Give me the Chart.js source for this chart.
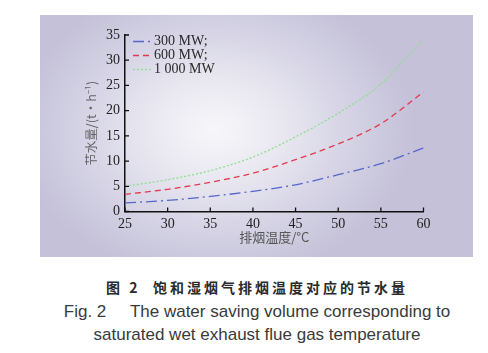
<!DOCTYPE html>
<html>
<head>
<meta charset="utf-8">
<script src="https://cdn.jsdelivr.net/npm/chart.js@4.4.1/dist/chart.umd.min.js"></script>
<style>
  html, body { margin: 0; padding: 0; background: #ffffff; }
  body { width: 488px; height: 353px; position: relative; overflow: hidden; }
  #panel {
    position: absolute; left: 40px; top: 15px; width: 433px; height: 242px;
    background: radial-gradient(ellipse 200px 150px at 175px 115px, #f7f7fa 0%, #e8e7f0 35%, #d3d1e3 70%, #c4c1d8 100%);
    background-color: #c4c1d8;
  }
  #wrap { position: absolute; left: 0; top: 0; width: 488px; height: 260px; }
  .cap { position: absolute; left: 13px; width: 488px; text-align: center; white-space: nowrap; }
  #cap1 { top: 277px; font-family: "Noto Sans CJK SC", sans-serif; font-weight: bold; font-size: 14px; color: #2a2a2a; letter-spacing: 3px; }
  #cap2 { top: 302px; font-family: "Liberation Sans", Arial, sans-serif; font-size: 17px; color: #3a3a3a; }
  #cap3 { top: 325px; font-family: "Liberation Sans", Arial, sans-serif; font-size: 17px; color: #3a3a3a; }
</style>
</head>
<body>
<div id="panel"></div>
<div id="wrap"><canvas id="c" width="488" height="260"></canvas></div>
<div class="cap" id="cap1">图 2&nbsp;&nbsp;饱和湿烟气排烟温度对应的节水量</div>
<div class="cap" id="cap2">Fig. 2&nbsp;&nbsp;&nbsp;&nbsp;&nbsp;The water saving volume corresponding to</div>
<div class="cap" id="cap3">saturated wet exhaust flue gas temperature</div>
<script>
// ---- data ----
const temperatures = [25, 30, 35, 40, 45, 50, 55, 60];
const mw300 = [1.7, 2.2, 3.0, 4.0, 5.3, 7.3, 9.5, 12.6];
const mw600 = [3.4, 4.4, 5.8, 7.6, 10.3, 13.4, 17.4, 23.7];
const mw1000 = [5.0, 6.3, 8.1, 10.8, 14.8, 19.5, 25.3, 34.2];
const seriesLabels = ["300 MW;", "600 MW;", "1 000 MW"];
const xTicks = [25, 30, 35, 40, 45, 50, 55, 60];
const yTicks = [0, 5, 10, 15, 20, 25, 30, 35];

function pts(xs, ys) { return xs.map((x, i) => ({ x: x, y: ys[i] })); }

const styles = [
  { color: "#5566cc", dash: [11, 4, 2, 4] },
  { color: "#e23a4e", dash: [6, 4] },
  { color: "#8ee08e", dash: [2, 2] }
];
const allSeries = [mw300, mw600, mw1000];

const datasets = allSeries.map((s, i) => ({
  label: seriesLabels[i],
  data: pts(temperatures, s),
  borderColor: styles[i].color,
  borderDash: styles[i].dash,
  borderWidth: 1.3,
  pointRadius: 0,
  fill: false,
  cubicInterpolationMode: "monotone"
}));

const innerTicks = {
  id: "innerTicks",
  afterDraw(chart) {
    const ctx = chart.ctx;
    const xs = chart.scales.x, ys = chart.scales.y;
    const a = chart.chartArea;
    ctx.save();
    ctx.strokeStyle = "#111";
    ctx.lineWidth = 1.3;
    ctx.beginPath();
    xTicks.forEach(v => {
      const px = xs.getPixelForValue(v);
      ctx.moveTo(px, a.bottom); ctx.lineTo(px, a.bottom - 4);
    });
    yTicks.forEach(v => {
      const py = ys.getPixelForValue(v);
      ctx.moveTo(a.left, py); ctx.lineTo(a.left + 4, py);
    });
    ctx.stroke();
    ctx.restore();
  }
};

const innerLegend = {
  id: "innerLegend",
  afterDraw(chart) {
    const ctx = chart.ctx;
    const a = chart.chartArea;
    ctx.save();
    ctx.font = "14px 'Liberation Serif', 'Times New Roman', serif";
    ctx.textBaseline = "middle";
    ctx.textAlign = "left";
    chart.data.datasets.forEach((ds, i) => {
      const y = a.top + 6.5 + i * 14;
      ctx.strokeStyle = ds.borderColor;
      ctx.lineWidth = 1.3;
      ctx.setLineDash(ds.borderDash);
      ctx.beginPath();
      ctx.moveTo(a.left + 8, y); ctx.lineTo(a.left + 26, y);
      ctx.stroke();
      ctx.setLineDash([]);
      ctx.fillStyle = "#2a2a2a";
      ctx.fillText(ds.label, a.left + 29, y);
    });
    ctx.restore();
  }
};

new Chart(document.getElementById("c"), {
  type: "line",
  data: { datasets: datasets },
  options: {
    responsive: false,
    animation: false,
    devicePixelRatio: 1,
    layout: { padding: { left: 80, top: 35, right: 64.5, bottom: 10 } },
    plugins: { legend: { display: false }, tooltip: { enabled: false } },
    scales: {
      x: {
        type: "linear",
        min: 25, max: 60,
        afterBuildTicks(scale) { scale.ticks = xTicks.map(v => ({ value: v })); },
        afterFit(scale) { scale.height = 38.5; },
        grid: { display: false, drawTicks: false },
        border: { display: true, color: "#111", width: 1.5 },
        ticks: { padding: 4, color: "#222", font: { family: "'Liberation Serif', serif", size: 14 } },
        title: { display: true, text: "排烟温度/°C", color: "#555", font: { family: "'Noto Sans CJK SC', sans-serif", size: 13 }, padding: { top: 0, bottom: 5 } }
      },
      y: {
        type: "linear",
        min: 0, max: 35,
        afterBuildTicks(scale) { scale.ticks = yTicks.map(v => ({ value: v })); },
        afterFit(scale) { scale.width = 45; },
        grid: { display: false, drawTicks: false },
        border: { display: true, color: "#111", width: 1.5 },
        ticks: { padding: 5, color: "#222", font: { family: "'Liberation Serif', serif", size: 14 } },
        title: { display: true, text: "节水量/(t·h⁻¹)", color: "#666", font: { family: "'Noto Sans CJK SC', sans-serif", size: 12.5 }, padding: { top: 4, bottom: 0 } }
      }
    }
  },
  plugins: [innerTicks, innerLegend]
});
</script>
</body>
</html>
